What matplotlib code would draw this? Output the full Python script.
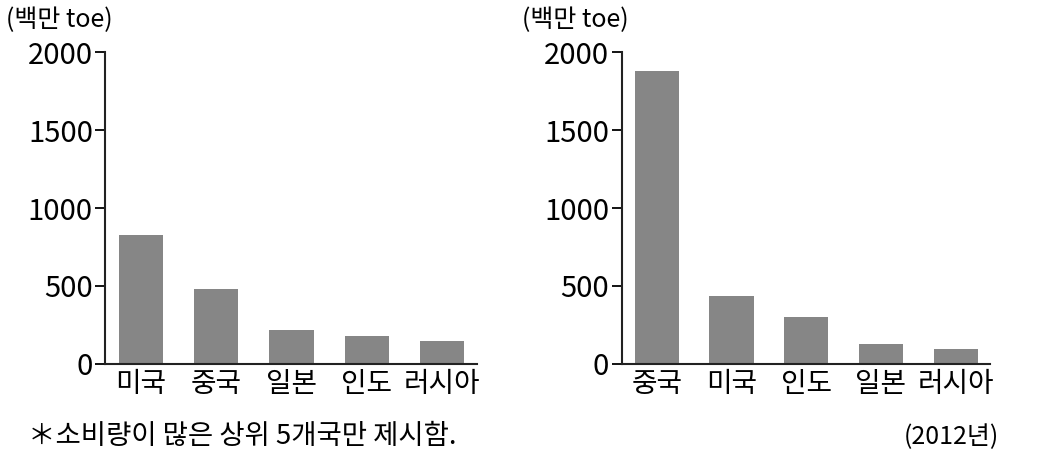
import matplotlib
matplotlib.use("Agg")
import matplotlib.pyplot as plt

plt.rcParams['font.family'] = ['Noto Sans CJK KR', 'DejaVu Sans']

left_countries = ["미국", "중국", "일본", "인도", "러시아"]
left_values = [825, 478, 215, 176, 146]

right_countries = ["중국", "미국", "인도", "일본", "러시아"]
right_values = [1879, 435, 298, 125, 92]

yticks = [0, 500, 1000, 1500, 2000]
unit_label = "(백만 toe)"
note = "＊소비량이 많은 상위 5개국만 제시함."
year_label = "(2012년)"

bar_color = "#868686"

fig = plt.figure(figsize=(10.48, 4.55), dpi=100)
ax1 = fig.add_axes([0.1005, 0.2007, 0.3544, 0.6843])
ax2 = fig.add_axes([0.5932, 0.2007, 0.3515, 0.6843])

for ax, cats, vals in [(ax1, left_countries, left_values), (ax2, right_countries, right_values)]:
    x = range(len(cats))
    ax.bar(x, vals, width=0.59, color=bar_color)
    ax.set_xlim(-0.47, 4.46)
    ax.set_ylim(0, 2000)
    ax.set_yticks(yticks)
    ax.set_yticklabels([str(t) for t in yticks], fontsize=21)
    ax.set_xticks(list(x))
    ax.set_xticklabels(cats, fontsize=20)
    ax.tick_params(axis='x', length=0, pad=4)
    ax.tick_params(axis='y', length=7, width=1.3, pad=2)
    ax.spines['top'].set_visible(False)
    ax.spines['right'].set_visible(False)
    for s in ['left', 'bottom']:
        ax.spines[s].set_linewidth(1.5)
        ax.spines[s].set_color("#222222")

fig.text(6 / 1048, 1 - 20 / 455, unit_label, fontsize=18, ha='left', va='center')
fig.text(522 / 1048, 1 - 20 / 455, unit_label, fontsize=18, ha='left', va='center')
fig.text(28 / 1048, 1 - 437 / 455, note, fontsize=19.8, ha='left', va='center')
fig.text(999 / 1048, 1 - 437 / 455, year_label, fontsize=18, ha='right', va='center')

fig.savefig("out.png", dpi=100)
